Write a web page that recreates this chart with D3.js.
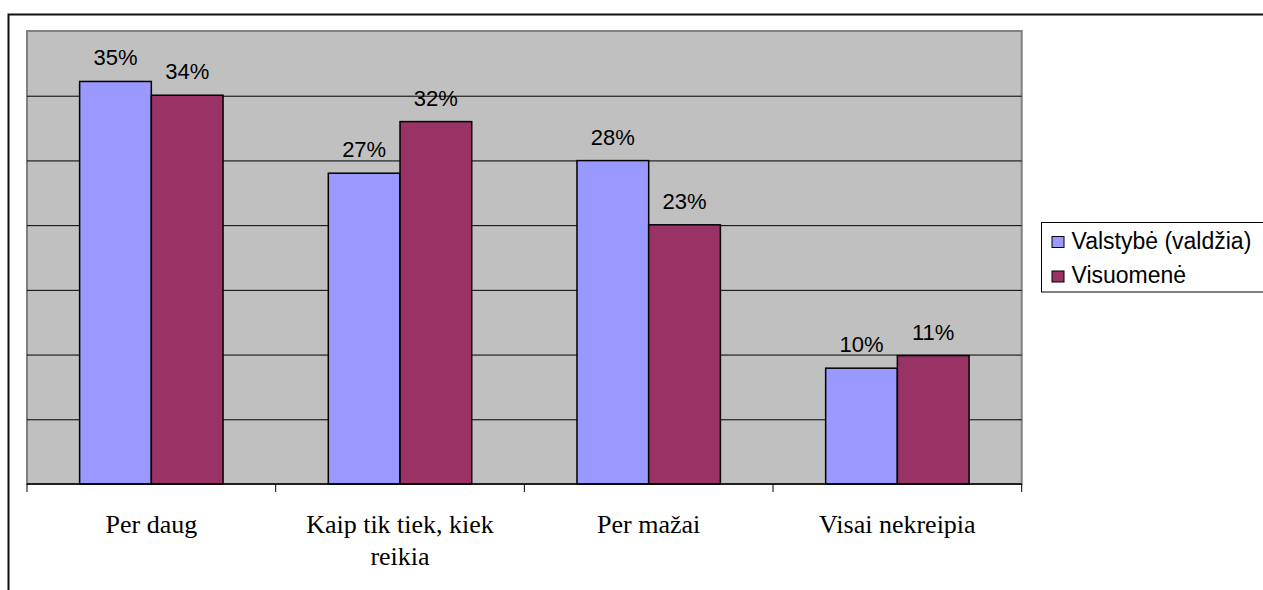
<!DOCTYPE html>
<html>
<head>
<meta charset="utf-8">
<script src="https://cdn.jsdelivr.net/npm/d3@7"></script>
<style>
  body { margin: 0; background: #fff; }
  svg { display: block; }
</style>
</head>
<body>
<div id="chartDiv"></div>
<script>

// chart values
var categories = ["Per daug", "Kaip tik tiek, kiek reikia", "Per mažai", "Visai nekreipia"];
var seriesNames = ["Valstybė (valdžia)", "Visuomenė"];
var valstybe = [0.351, 0.271, 0.282, 0.101];
var visuomene = [0.339, 0.316, 0.226, 0.112];
var seriesColors = ["#9999FF", "#993366"];
var yMax = 0.395;
var gridCount = 7;

var svg = d3.select("#chartDiv").append("svg")
    .attr("width", 1263)
    .attr("height", 590);

var plot = {left: 27, top: 31, right: 1021.7, bottom: 484};

// outer chart frame
svg.append("rect")
    .attr("x", 8.5)
    .attr("y", 14.5)
    .attr("width", 1300)
    .attr("height", 700)
    .attr("fill", "white")
    .style("stroke", "#111")
    .style("stroke-width", 2);

var x0 = d3.scaleBand()
    .domain(categories)
    .range([plot.left, plot.right])
    .paddingInner(0)
    .paddingOuter(0);

var x1 = d3.scaleBand()
    .domain(seriesNames)
    .range([0, x0.bandwidth()])
    .paddingInner(0)
    .paddingOuter(0.734);

var y = d3.scaleLinear()
    .domain([0, yMax])
    .range([plot.bottom, plot.top]);

// plot area
svg.append("rect")
    .attr("x", plot.left)
    .attr("y", plot.top)
    .attr("width", plot.right - plot.left)
    .attr("height", plot.bottom - plot.top)
    .attr("fill", "#C0C0C0")
    .style("stroke", "#808080")
    .style("stroke-width", 2);

// gridlines
var gridValues = d3.range(1, gridCount).map(function(i){ return i * yMax / gridCount; });
svg.append("g")
    .attr("class", "grid")
    .attr("transform", "translate(" + plot.left + ",0)")
    .call(d3.axisLeft(y).tickValues(gridValues).tickSize(-(plot.right - plot.left)).tickFormat(""))
    .call(function(g){ g.select(".domain").remove(); })
    .selectAll("line")
    .attr("stroke", "#000")
    .attr("stroke-width", 1);

// bars
var rows = categories.map(function(c, i){
  return {cat: c, values: [valstybe[i], visuomene[i]]};
});

var groups = svg.append("g").selectAll(".group").data(rows).enter()
    .append("g")
    .attr("class", "group")
    .attr("transform", function(d){ return "translate(" + x0(d.cat) + ",0)"; });

groups.selectAll("rect").data(function(d){
      return d.values.map(function(v, j){ return {name: seriesNames[j], value: v, j: j}; });
    }).enter()
    .append("rect")
    .attr("x", function(d){ return x1(d.name); })
    .attr("y", function(d){ return y(d.value); })
    .attr("width", x1.bandwidth())
    .attr("height", function(d){ return y(0) - y(d.value); })
    .attr("fill", function(d){ return seriesColors[d.j]; })
    .style("stroke", "#000")
    .style("stroke-width", 1.5);

groups.selectAll("text.lbl").data(function(d){
      return d.values.map(function(v, j){ return {name: seriesNames[j], value: v}; });
    }).enter()
    .append("text")
    .attr("class", "lbl")
    .attr("x", function(d){ return x1(d.name) + x1.bandwidth() / 2; })
    .attr("y", function(d){ return y(d.value) - 16; })
    .attr("text-anchor", "middle")
    .style("font-family", "Arial, 'Liberation Sans', sans-serif")
    .style("font-size", "22px")
    .text(function(d){ return d3.format(".0%")(d.value); });

// x axis line and boundary ticks
svg.append("line")
    .attr("x1", plot.left).attr("x2", plot.right)
    .attr("y1", plot.bottom).attr("y2", plot.bottom)
    .style("stroke", "#000").style("stroke-width", 1.5);

var tickPos = categories.map(function(c){ return x0(c); }).concat([plot.right]);
svg.append("g").selectAll("line").data(tickPos).enter()
    .append("line")
    .attr("x1", function(d){ return d; }).attr("x2", function(d){ return d; })
    .attr("y1", plot.bottom).attr("y2", plot.bottom + 8)
    .style("stroke", "#000").style("stroke-width", 1);

// category labels
var catText = svg.append("g").selectAll("text").data(categories).enter()
    .append("text")
    .attr("x", function(d){ return x0(d) + x0.bandwidth() / 2; })
    .attr("y", 533)
    .attr("text-anchor", "middle")
    .style("font-family", "'Times New Roman', 'Liberation Serif', serif")
    .style("font-size", "26px")
    .text(function(d){ return d; });

catText.call(wrap, x0.bandwidth() * 0.85);

function wrap(texts, width) {
  texts.each(function(){
    var text = d3.select(this),
        words = text.text().split(/\s+/),
        line = [],
        lineNo = 0,
        xPos = text.attr("x"),
        tspan = text.text(null).append("tspan").attr("x", xPos).attr("dy", 0);
    words.forEach(function(w){
      line.push(w);
      tspan.text(line.join(" "));
      if (tspan.node().getComputedTextLength() > width && line.length > 1) {
        line.pop();
        tspan.text(line.join(" "));
        line = [w];
        lineNo++;
        tspan = text.append("tspan").attr("x", xPos).attr("dy", 32).text(w);
      }
    });
  });
}

// legend
var legend = svg.append("g").attr("class", "legend");
legend.append("rect")
    .attr("x", 1041.5)
    .attr("y", 222.5)
    .attr("width", 260)
    .attr("height", 69.5)
    .attr("fill", "white")
    .style("stroke", "#000")
    .style("stroke-width", 1);

var legItems = legend.selectAll(".item").data(seriesNames).enter()
    .append("g")
    .attr("class", "item")
    .attr("transform", function(d, i){ return "translate(1052," + (236.5 + i * 34.5) + ")"; });

legItems.append("rect")
    .attr("width", 12)
    .attr("height", 11)
    .attr("fill", function(d, i){ return seriesColors[i]; })
    .style("stroke", "#000")
    .style("stroke-width", 1);

legItems.append("text")
    .attr("x", 19.5)
    .attr("y", 12)
    .style("font-family", "Arial, 'Liberation Sans', sans-serif")
    .style("font-size", "23px")
    .text(function(d){ return d; });

</script>
</body>
</html>
